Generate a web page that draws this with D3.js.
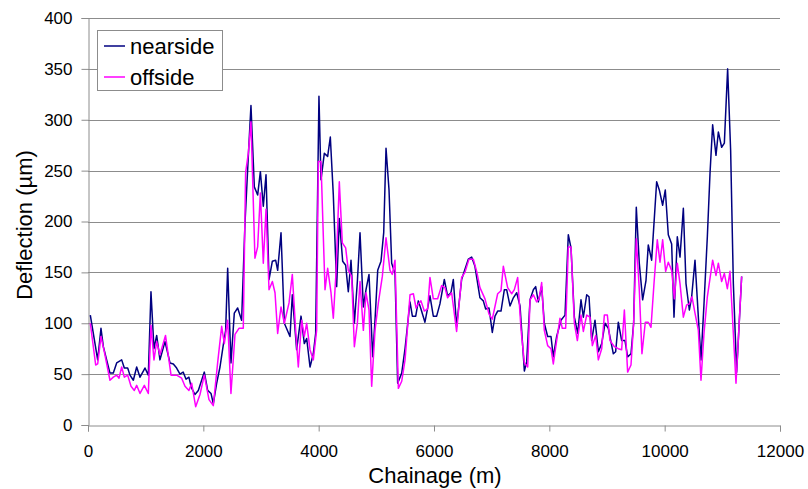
<!DOCTYPE html>
<html>
<head>
<meta charset="utf-8">
<script src="https://cdn.jsdelivr.net/npm/d3@7"></script>
<style>
  html, body { margin: 0; padding: 0; background: #fff; }
  svg { display: block; font-family: "Liberation Sans", Arial, sans-serif; }
</style>
</head>
<body>
<svg id="chart" width="808" height="489"></svg>
<script>
// ---- data (chainage m, deflection µm) ----
const nearside = [
  [40,108],[168,64],[225,95],[266,77],[381,51],[439,51],[497,61],[584,64],[630,56],[688,56],
  [728,49],[786,44],[844,57],[902,47],[988,56],[1046,49],[1092,131],[1144,75],[1191,88],[1248,64],
  [1335,82],[1422,61],[1480,60],[1537,56],[1595,50],[1650,52],[1700,45],[1750,47],[1790,37],[1855,30],
  [1913,34],[2017,52],[2075,34],[2133,31],[2173,21],[2231,41],[2289,57],[2347,79],[2387,93],[2422,154],
  [2479,61],[2537,110],[2595,115],[2664,103],[2722,198],[2780,264],[2826,314],[2884,234],[2942,226],[2989,249],
  [3040,215],[3087,246],[3139,143],[3197,161],[3254,162],[3289,152],[3347,189],[3405,100],[3503,87],[3543,128],
  [3618,74],[3694,107],[3751,80],[3792,85],[3850,57],[3907,70],[3948,90],[4005,323],[4040,241],[4098,267],
  [4156,264],[4202,283],[4254,226],[4312,136],[4358,203],[4416,161],[4468,157],[4514,131],[4561,162],[4619,100],
  [4671,141],[4717,189],[4775,116],[4821,133],[4873,148],[4937,67],[4977,103],[5024,152],[5081,161],[5128,189],
  [5168,272],[5220,231],[5266,159],[5324,149],[5370,41],[5440,51],[5498,75],[5584,121],[5625,107],[5683,107],
  [5728,122],[5774,114],[5843,101],[5930,127],[5988,107],[6046,107],[6103,119],[6179,143],[6236,127],[6294,130],
  [6335,143],[6392,97],[6479,143],[6537,153],[6595,163],[6653,165],[6710,156],[6797,125],[6855,122],[6896,114],
  [6954,115],[7011,91],[7058,107],[7104,112],[7162,112],[7220,133],[7260,133],[7318,117],[7376,125],[7434,130],
  [7492,117],[7567,53],[7607,62],[7665,123],[7723,133],[7763,136],[7809,121],[7867,136],[7913,100],[7971,87],
  [8029,87],[8069,67],[8127,87],[8202,103],[8272,108],[8329,187],[8376,174],[8434,106],[8492,90],[8549,123],
  [8590,106],[8648,128],[8688,126],[8734,83],[8792,103],[8850,72],[8908,80],[8966,100],[9023,95],[9110,70],
  [9150,72],[9196,101],[9254,83],[9312,83],[9358,67],[9416,70],[9462,100],[9508,214],[9560,159],[9618,123],
  [9676,142],[9716,177],[9774,162],[9861,239],[9907,231],[9965,216],[10011,231],[10063,187],[10121,178],[10162,106],
  [10219,185],[10266,165],[10324,213],[10370,139],[10428,113],[10468,126],[10526,162],[10584,106],[10630,64],[10682,119],
  [10740,185],[10786,247],[10832,295],[10890,265],[10931,288],[10988,273],[11035,277],[11092,350],[11144,270],[11191,139],
  [11248,52],[11335,146]
];
const offside = [
  [40,100],[133,59],[168,60],[225,87],[283,72],[381,44],[439,47],[497,49],[538,46],[584,57],
  [630,47],[688,49],[746,38],[803,34],[844,39],[902,31],[977,39],[1046,31],[1092,98],[1144,64],
  [1191,82],[1248,69],[1344,88],[1440,49],[1537,49],[1624,46],[1682,38],[1750,34],[1798,41],[1867,18],
  [1942,30],[2017,49],[2098,25],[2173,19],[2248,61],[2318,97],[2364,80],[2422,103],[2479,31],[2549,89],
  [2618,95],[2693,95],[2733,248],[2780,267],[2826,298],[2895,164],[2942,175],[2989,228],[3040,159],[3087,212],
  [3139,133],[3197,141],[3243,130],[3289,90],[3347,116],[3405,100],[3486,120],[3543,148],[3601,93],[3647,57],
  [3705,103],[3751,87],[3792,100],[3850,74],[3907,64],[3965,93],[3994,259],[4040,259],[4110,133],[4156,154],
  [4214,130],[4254,105],[4300,149],[4358,239],[4410,179],[4468,174],[4514,152],[4572,146],[4619,77],[4671,100],
  [4717,141],[4775,93],[4821,130],[4873,113],[4919,38],[4977,93],[5035,120],[5104,146],[5168,184],[5237,152],
  [5277,148],[5324,162],[5382,36],[5440,43],[5498,64],[5584,128],[5642,129],[5689,115],[5728,119],[5774,122],
  [5832,112],[5890,114],[5930,145],[5988,124],[6063,124],[6132,137],[6190,135],[6236,125],[6306,130],[6392,92],
  [6479,145],[6537,150],[6607,163],[6682,163],[6740,151],[6797,135],[6884,124],[6954,109],[7011,104],[7104,129],
  [7162,132],[7202,156],[7277,135],[7347,129],[7393,133],[7451,145],[7509,94],[7567,61],[7625,57],[7665,123],
  [7723,128],[7780,121],[7821,124],[7867,140],[7913,93],[7971,78],[8029,75],[8069,60],[8127,83],[8185,105],
  [8225,95],[8283,95],[8329,175],[8376,175],[8434,100],[8486,83],[8549,108],[8590,92],[8648,108],[8705,106],
  [8746,78],[8804,88],[8850,64],[8908,75],[8954,108],[9006,108],[9052,83],[9127,77],[9196,75],[9254,74],
  [9301,113],[9358,52],[9416,59],[9462,100],[9508,183],[9560,133],[9606,70],[9664,101],[9716,101],[9763,96],
  [9815,139],[9872,182],[9919,160],[9965,182],[10017,151],[10063,160],[10121,152],[10168,124],[10219,159],[10266,139],
  [10324,106],[10381,118],[10428,119],[10474,126],[10526,110],[10584,93],[10630,44],[10682,90],[10740,126],[10832,162],
  [10890,147],[10931,159],[10988,141],[11035,149],[11087,134],[11133,151],[11191,90],[11237,41],[11335,146]
];
const xTicks = [0, 2000, 4000, 6000, 8000, 10000, 12000];
const yTicks = [0, 50, 100, 150, 200, 250, 300, 350, 400];
const seriesNames = ["nearside", "offside"];
const seriesColors = ["#000080", "#FF00FF"];

// ---- layout ----
const svg = d3.select("#chart");
const plotL = 88, plotR = 780, plotT = 18, plotB = 425;
const x = d3.scaleLinear().domain([0, 12000]).range([plotL, plotR]);
const y = d3.scaleLinear().domain([0, 400]).range([plotB, plotT]);
const FONT = "Liberation Sans, Arial, sans-serif";

// gridlines
svg.append("g").selectAll("line").data(yTicks.filter(d => d > 0)).join("line")
  .attr("x1", plotL).attr("x2", plotR)
  .attr("y1", d => Math.round(y(d)) + 0.5).attr("y2", d => Math.round(y(d)) + 0.5)
  .attr("stroke", "#8c8c8c").attr("stroke-width", 1);

// y axis
const yAxis = svg.append("g").attr("transform", `translate(${plotL + 0.5},0)`)
  .call(d3.axisLeft(y).tickValues(yTicks).tickSize(7).tickPadding(9).tickFormat(d3.format("d")));
yAxis.select(".domain").attr("stroke", "#8c8c8c");
yAxis.selectAll(".tick line").attr("stroke", "#8c8c8c");
yAxis.selectAll("text").attr("font-size", 17).attr("fill", "#000").attr("font-family", FONT);

// x axis
const xAxis = svg.append("g").attr("transform", `translate(0,${plotB + 0.5})`)
  .call(d3.axisBottom(x).tickValues(xTicks).tickSize(6).tickPadding(13).tickFormat(d3.format("d")));
xAxis.select(".domain").attr("stroke", "#8c8c8c");
xAxis.selectAll(".tick line").attr("stroke", "#8c8c8c");
xAxis.selectAll("text").attr("font-size", 17).attr("fill", "#000").attr("font-family", FONT);

// lines
const line = d3.line().x(d => x(d[0])).y(d => y(d[1]));
[nearside, offside].forEach((data, i) => {
  svg.append("path").datum(data)
    .attr("fill", "none").attr("stroke", seriesColors[i])
    .attr("stroke-width", 1.5).attr("stroke-linejoin", "round")
    .attr("d", line);
});

// axis titles
svg.append("text").attr("x", 435).attr("y", 483).attr("text-anchor", "middle")
  .attr("font-size", 22).text("Chainage (m)");
svg.append("text").attr("transform", "translate(32,225) rotate(-90)")
  .attr("text-anchor", "middle").attr("font-size", 22).text("Deflection (µm)");

// legend
const lg = svg.append("g");
lg.append("rect").attr("x", 97.5).attr("y", 30.5).attr("width", 125).attr("height", 60)
  .attr("fill", "#fff").attr("stroke", "#8c8c8c");
seriesNames.forEach((n, i) => {
  const cy = 46 + i * 31;
  lg.append("line").attr("x1", 104).attr("x2", 125).attr("y1", cy).attr("y2", cy)
    .attr("stroke", seriesColors[i]).attr("stroke-width", 1.5);
  lg.append("text").attr("x", 130).attr("y", cy + 8).attr("font-size", 22).text(n);
});
</script>
</body>
</html>
